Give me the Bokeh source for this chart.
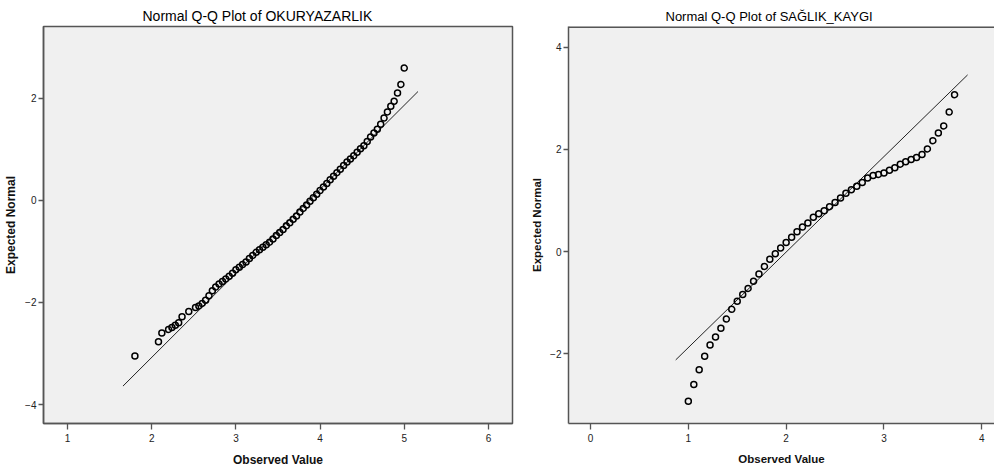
from bokeh.plotting import figure
from bokeh.layouts import row
from bokeh.models import FixedTicker, Range1d, Span
from bokeh.embed import file_html
from bokeh.resources import INLINE

# ---- OKURYAZARLIK ----
oku_title = "Normal Q-Q Plot of OKURYAZARLIK"
oku_obs = [1.80, 2.08, 2.12, 2.20, 2.24, 2.28, 2.32, 2.36, 2.44,
           2.52, 2.56, 2.60, 2.64, 2.68, 2.72, 2.76, 2.80, 2.84, 2.88,
           2.92, 2.96, 3.00, 3.04, 3.08, 3.12, 3.16, 3.20, 3.24, 3.28,
           3.32, 3.36, 3.40, 3.44, 3.48, 3.52, 3.56, 3.60, 3.64, 3.68,
           3.72, 3.76, 3.80, 3.84, 3.88, 3.92, 3.96, 4.00, 4.04, 4.08,
           4.12, 4.16, 4.20, 4.24, 4.28, 4.32, 4.36, 4.40, 4.44, 4.48,
           4.52, 4.56, 4.60, 4.64, 4.68, 4.72, 4.76, 4.80, 4.84, 4.88,
           4.92, 4.96, 5.00]
oku_exp = [-3.05, -2.77, -2.60, -2.53, -2.49, -2.45, -2.40, -2.28, -2.18,
           -2.10, -2.07, -2.02, -1.96, -1.87, -1.77, -1.70, -1.64, -1.59, -1.54,
           -1.49, -1.43, -1.36, -1.31, -1.26, -1.21, -1.14, -1.08, -1.02, -0.97,
           -0.92, -0.87, -0.82, -0.76, -0.69, -0.63, -0.57, -0.50, -0.44, -0.37,
           -0.31, -0.23, -0.16, -0.09, -0.02, 0.05, 0.12, 0.19, 0.26, 0.33,
           0.40, 0.47, 0.54, 0.61, 0.68, 0.75, 0.81, 0.87, 0.94, 1.01,
           1.07, 1.15, 1.24, 1.32, 1.39, 1.49, 1.61, 1.73, 1.84, 1.94,
           2.10, 2.27, 2.59]
oku_mean = 3.869
oku_sd = 0.6075
oku_line_x = [1.658, 5.163]
oku_xticks = [1, 2, 3, 4, 5, 6]
oku_yticks = [-4, -2, 0, 2]

# ---- SAGLIK_KAYGI ----
sag_title = "Normal Q-Q Plot of SAĞLIK_KAYGI"
sag_obs = [1.000, 1.056, 1.111, 1.167, 1.222, 1.278, 1.333, 1.389, 1.444, 1.500,
           1.556, 1.611, 1.667, 1.722, 1.778, 1.833, 1.889, 1.944, 2.000, 2.056,
           2.111, 2.167, 2.222, 2.278, 2.333, 2.389, 2.444, 2.500, 2.556, 2.611,
           2.667, 2.722, 2.778, 2.833, 2.889, 2.944, 3.000, 3.056, 3.111, 3.167,
           3.222, 3.278, 3.333, 3.389, 3.444, 3.500, 3.556, 3.611, 3.667, 3.722]
sag_exp = [-2.93, -2.60, -2.31, -2.05, -1.83, -1.67, -1.50, -1.32, -1.13, -0.97,
           -0.84, -0.72, -0.58, -0.44, -0.29, -0.15, -0.04, 0.07, 0.18, 0.28,
           0.39, 0.48, 0.56, 0.67, 0.74, 0.80, 0.88, 0.96, 1.05, 1.14,
           1.21, 1.28, 1.35, 1.44, 1.49, 1.51, 1.54, 1.59, 1.64, 1.71,
           1.76, 1.80, 1.84, 1.90, 2.01, 2.17, 2.32, 2.46, 2.73, 3.07]
sag_mean = 2.005
sag_sd = 0.535
sag_line_x = [0.871, 3.855]
sag_xticks = [0, 1, 2, 3, 4]
sag_yticks = [-2, 0, 2, 4]

FONT = "Liberation Sans"
AXC = "#555555"
H = 473


def make(title, tsize, toffset, obs, exp, mean, sd, line_x, xr, yr, xt, yt,
         width, bl, br, lsize, outline=True):
    p = figure(width=width, height=H, x_range=Range1d(*xr), y_range=Range1d(*yr),
               output_backend="svg", toolbar_location=None,
               min_border_left=bl, min_border_right=br,
               min_border_top=26, min_border_bottom=50)
    p.title.text = title
    p.title.align = "left"
    p.title.offset = toffset
    p.title.standoff = 6
    p.title.vertical_align = "bottom"
    p.title.text_font = FONT
    p.title.text_font_size = tsize
    p.title.text_font_style = "normal"
    p.title.text_color = "#000000"

    p.background_fill_color = "#f0f0f0"
    p.border_fill_color = "white"
    p.grid.visible = False
    if outline:
        p.outline_line_color = AXC
        p.outline_line_width = 1.5
    else:
        p.outline_line_color = None
        p.add_layout(Span(location=yr[1], dimension="width",
                          line_color=AXC, line_width=3))

    ly = [(x - mean) / sd for x in line_x]
    p.line(line_x, ly, line_color="#222222", line_width=1)
    p.scatter(obs, exp, marker="circle", size=6, fill_color=None,
              line_color="black", line_width=1.5)

    for ax in (p.xaxis[0], p.yaxis[0]):
        ax.axis_line_color = AXC
        ax.axis_line_width = 1.5
        ax.major_tick_line_color = AXC
        ax.major_tick_line_width = 1.3
        ax.major_tick_in = 0
        ax.minor_tick_line_color = None
        ax.major_label_text_font = FONT
        ax.major_label_text_font_size = "10px"
        ax.major_label_text_color = "#222222"
        ax.axis_label_text_font = FONT
        ax.axis_label_text_font_size = lsize
        ax.axis_label_text_font_style = "bold"
        ax.axis_label_text_color = "#111111"

    p.xaxis.ticker = FixedTicker(ticks=xt)
    p.xaxis.major_tick_out = 6
    p.xaxis.major_label_standoff = 4
    p.xaxis.axis_label = "Observed Value"
    p.xaxis.axis_label_standoff = 8

    p.yaxis.ticker = FixedTicker(ticks=yt)
    p.yaxis.major_tick_out = 5
    p.yaxis.major_label_standoff = 2
    p.yaxis.axis_label = "Expected Normal"
    p.yaxis.axis_label_standoff = 4
    return p


p1 = make(oku_title, "14px", 99, oku_obs, oku_exp, oku_mean, oku_sd, oku_line_x,
          (0.714, 6.286), (-4.372, 3.404), oku_xticks, oku_yticks,
          528, 43, 16, "12px")
p2 = make(sag_title, "13px", 97, sag_obs, sag_exp, sag_mean, sag_sd, sag_line_x,
          (-0.225, 4.13), (-3.364, 4.405), sag_xticks, sag_yticks,
          466, 34, 0, "11.5px", outline=False)

layout = row(p1, p2)
open("out.html", "w").write(file_html(layout, INLINE))
